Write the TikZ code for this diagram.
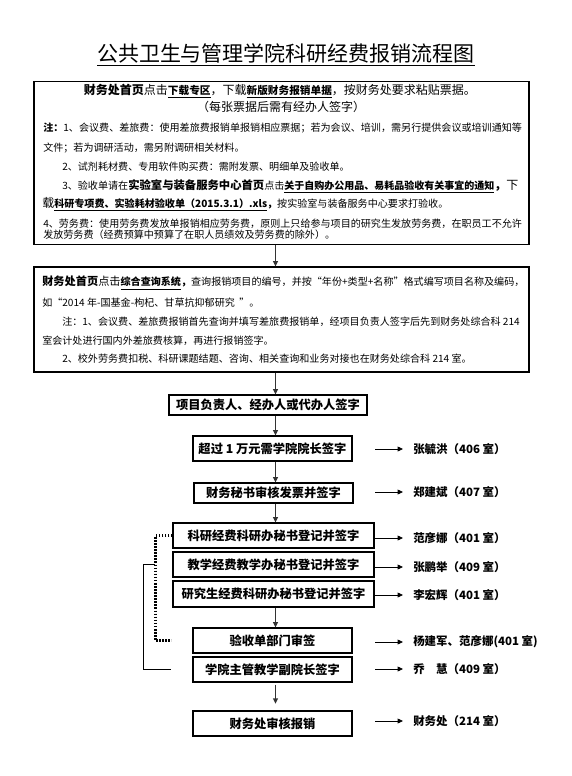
\documentclass[tikz,border=0pt]{standalone}
\usepackage{fontspec}
\setmainfont{Noto Sans CJK SC}
\usetikzlibrary{positioning, arrows.meta}

\newcommand{\notesize}{\fontsize{7.55pt}{9pt}\selectfont}
\newcommand{\uln}[1]{\underline{#1}}

\begin{document}
\begin{tikzpicture}[x=0.75pt, y=-0.75pt, >=Stealth,
    notebox/.style={draw, line width=0.8pt, minimum width=371.25pt, inner sep=0pt},
    stepbox/.style={draw, line width=0.8pt, inner sep=0pt, font=\fontsize{9.2pt}{11pt}\selectfont\bfseries},
    textline/.style={inner sep=0pt, anchor=west, font=\notesize},
    who/.style={inner sep=0pt, anchor=west, font=\fontsize{8.6pt}{10pt}\selectfont\bfseries},
    flow/.style={-{Triangle[length=4pt, width=3.6pt]}, line width=0.8pt, black!80},
    side/.style={-{Triangle[length=4pt, width=3.6pt]}, line width=0.6pt},
    dotbracket/.style={line width=1.6pt, dash pattern=on 1.2pt off 1.1pt}]

  \useasboundingbox (0,0) rectangle (572,776);

  % Title
  \node (title) at (286,55) {\fontsize{15.75pt}{18pt}\selectfont\uln{公共卫生与管理学院科研经费报销流程图}};

  % First box: download the forms
  \node[notebox, minimum height=122.25pt] (box1) at (281.5,163) {};
  \node[inner sep=0pt, font=\fontsize{9pt}{11pt}\selectfont] (b1l1) at (280,91)
    {{\bfseries 财务处首页}点击{\fontsize{8pt}{10pt}\selectfont\bfseries\uln{下载专区}}，下载{\fontsize{8pt}{10pt}\selectfont\bfseries\uln{新版财务报销单据}}，按财务处要求粘贴票据。};
  \node[inner sep=0pt, font=\fontsize{9pt}{11pt}\selectfont] (b1l2) at (281,107) {（每张票据后需有经办人签字）};
  \node[textline] (b1l3) at (43,128) {{\bfseries 注：}1、会议费、差旅费：使用差旅费报销单报销相应票据；若为会议、培训，需另行提供会议或培训通知等};
  \node[textline] (b1l4) at (43,148) {文件；若为调研活动，需另附调研相关材料。};
  \node[textline] (b1l5) at (62,167) {2、试剂耗材费、专用软件购买费：需附发票、明细单及验收单。};
  \node[textline] (b1l6) at (62,186)
    {3、验收单请在{\fontsize{8.5pt}{10pt}\selectfont\bfseries 实验室与装备服务中心首页}点击{\fontsize{7.5pt}{9pt}\selectfont\bfseries\uln{关于自购办公用品、易耗品验收有关事宜的通知}}{\fontsize{9pt}{10pt}\selectfont{\bfseries ，}下}};
  \node[textline] (b1l7) at (42,204)
    {{\fontsize{9pt}{10pt}\selectfont 载}{\bfseries\uln{科研专项费、实验耗材验收单（2015.3.1）.xls}}{\bfseries ，}按实验室与装备服务中心要求打验收。};
  \node[textline] (b1l8) at (43,224) {4、劳务费：使用劳务费发放单报销相应劳务费，原则上只给参与项目的研究生发放劳务费，在职员工不允许};
  \node[textline] (b1l9) at (43,235) {发放劳务费（经费预算中预算了在职人员绩效及劳务费的除外）。};

  % Second box: project number
  \node[notebox, minimum height=78.75pt] (box2) at (281.5,319.5) {};
  \node[textline] (b2l1) at (42,283)
    {{\fontsize{8.4pt}{10pt}\selectfont{\bfseries 财务处首页}点击}{\bfseries\uln{综合查询系统}}{\bfseries ，}查询报销项目的编号，并按“年份+类型+名称”格式编写项目名称及编码，};
  \node[textline] (b2l2) at (42,303) {如“2014 年-国基金-枸杞、甘草抗抑郁研究\ \ ”。};
  \node[textline] (b2l3) at (62,322) {注：1、会议费、差旅费报销首先查询并填写差旅费报销单，经项目负责人签字后先到财务处综合科 214};
  \node[textline] (b2l4) at (42,341) {室会计处进行国内外差旅费核算，再进行报销签字。};
  \node[textline] (b2l5) at (62,359) {2、校外劳务费扣税、科研课题结题、咨询、相关查询和业务对接也在财务处综合科 214 室。};

  % Signing steps
  \node[stepbox, minimum width=148.5pt, minimum height=15pt] (sign) at (268,405) {项目负责人、经办人或代办人签字};
  \node[stepbox, minimum width=119.25pt, minimum height=18.75pt] (dean) at (272.5,448.5) {超过 1 万元需学院院长签字};
  \node[stepbox, minimum width=119.25pt, minimum height=15pt] (secr) at (273.5,493) {财务秘书审核发票并签字};
  \node[stepbox, minimum width=150.75pt, minimum height=18.75pt] (kyreg) at (273.5,535.5) {科研经费科研办秘书登记并签字};
  \node[stepbox, minimum width=150.75pt, minimum height=18.75pt] (jxreg) at (273.5,564.5) {教学经费教学办秘书登记并签字};
  \node[stepbox, minimum width=150.75pt, minimum height=19.5pt] (yjsreg) at (273.5,594) {研究生经费科研办秘书登记并签字};
  \node[stepbox, minimum width=119.25pt, minimum height=18.75pt] (check) at (272.5,640.5) {验收单部门审签};
  \node[stepbox, minimum width=119.25pt, minimum height=18.75pt] (vice) at (272.5,669.5) {学院主管教学副院长签字};
  \node[stepbox, minimum width=119.25pt, minimum height=18.75pt] (final) at (272.5,723.5) {财务处审核报销};

  % Who signs
  \node[who] (p4) at (413,449) {张毓洪（406 室）};
  \node[who] (p5) at (413,492) {郑建斌（407 室）};
  \node[who] (p6) at (413,538) {范彦娜（401 室）};
  \node[who] (p7) at (413,567) {张鹏举（409 室）};
  \node[who] (p8) at (413,595) {李宏辉（401 室）};
  \node[who] (p9) at (413,642) {杨建军、范彦娜(401 室)};
  \node[who] (p10) at (413,669) {乔　慧（409 室）};
  \node[who] (p11) at (413,721) {财务处（214 室）};

  % Connectors
  \coordinate (axis) at (275.5,0);
  \draw[flow] (box1.south -| axis) -- (box2.north -| axis);
  \draw[flow] (box2.south -| axis) -- (sign.north -| axis);
  \draw[flow] (sign.south -| axis) -- (dean.north -| axis);
  \draw[flow] (dean.south -| axis) -- (secr.north -| axis);
  \draw[flow] (secr.south -| axis) -- (kyreg.north -| axis);
  \draw[flow] (yjsreg.south -| axis) -- (check.north -| axis);
  \draw[flow, shorten <=1.5pt, shorten >=5pt] (vice.south -| axis) -- (final.north -| axis);

  \foreach \p in {p4,p5,p6,p7,p8,p9,p10,p11}
    \draw[side] ([xshift=-28.5pt]\p.west) -- ([xshift=-7.5pt]\p.west);

  % Brackets on the left
  \draw[dotbracket] (kyreg.west) -- ++(-17,0) |- ([xshift=-15.75pt]check.west);
  \draw[line width=0.7pt] ([xshift=-12.75pt]jxreg.west) -- ++(-12,0) |- ([xshift=-15.75pt]vice.west);
\end{tikzpicture}
\end{document}
